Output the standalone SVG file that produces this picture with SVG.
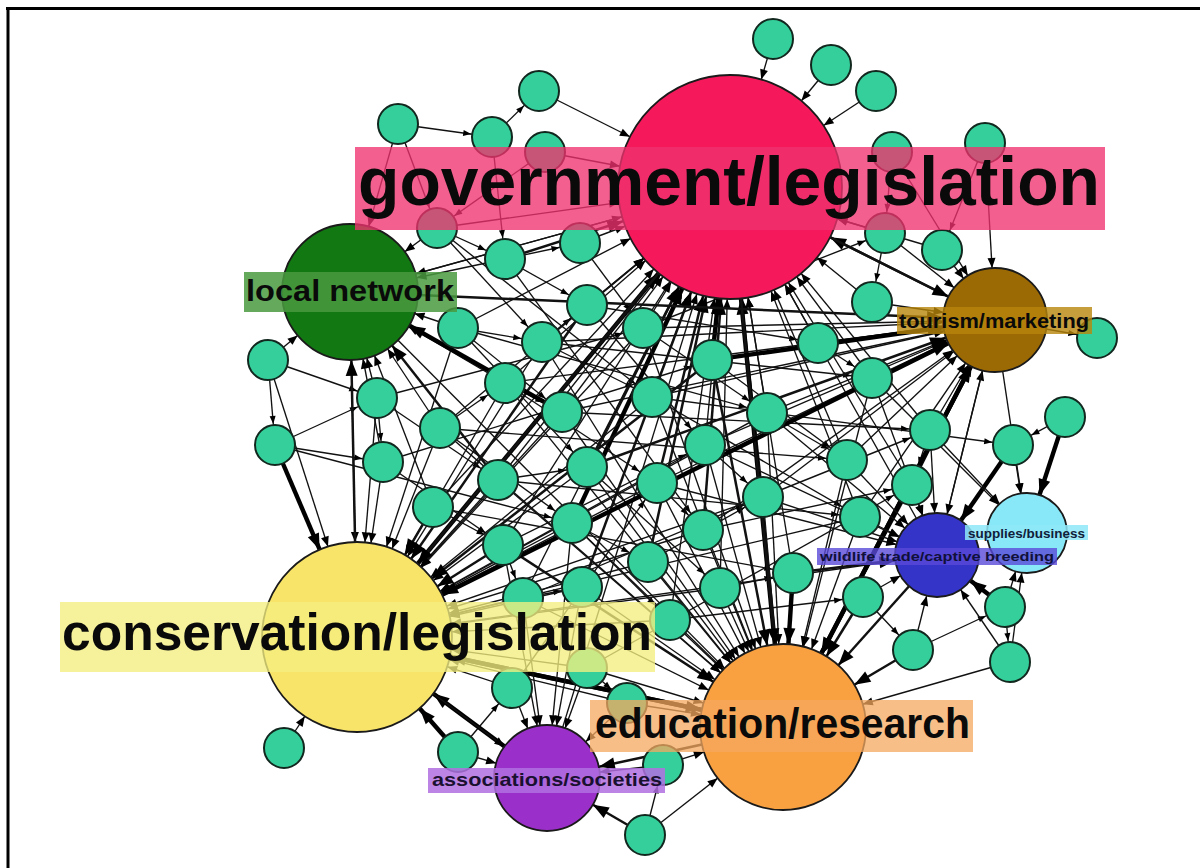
<svg xmlns="http://www.w3.org/2000/svg" width="1200" height="868" viewBox="0 0 1200 868">
<style>
.e{stroke:#111;stroke-width:1.35;fill:none}
.m{stroke:#111;stroke-width:2.5;fill:none}
.k{stroke:#000;stroke-width:4.4;fill:none}
.sn circle{fill:#35cf9b;stroke:#12281f;stroke-width:2}
.hub{stroke:#1a1a1a;stroke-width:1.8}
.lab{font-family:"Liberation Sans",Arial,sans-serif;font-weight:bold;fill:#0a0a0a}
.tG .e{marker-end:url(#sG)} .tG .m,.tG .k{marker-end:url(#bG)}
.tC .e{marker-end:url(#sC)} .tC .m,.tC .k{marker-end:url(#bC)}
.tE .e{marker-end:url(#sE)} .tE .m,.tE .k{marker-end:url(#bE)}
.tT .e{marker-end:url(#sT)} .tT .m,.tT .k{marker-end:url(#bT)}
.tW .e{marker-end:url(#sW)} .tW .m,.tW .k{marker-end:url(#bW)}
.tS .e{marker-end:url(#sS)} .tS .m,.tS .k{marker-end:url(#bS)}
.tA .e{marker-end:url(#sA)} .tA .m,.tA .k{marker-end:url(#bA)}
.tL .e{marker-end:url(#sL)} .tL .m,.tL .k{marker-end:url(#bL)}
.tn .e{marker-end:url(#sn)}
</style>
<defs>
<marker id="sG" markerUnits="userSpaceOnUse" markerWidth="10" markerHeight="8" refX="122" refY="4" orient="auto" overflow="visible"><path d="M0 0L10 4L0 8z"/></marker>
<marker id="bG" markerUnits="userSpaceOnUse" markerWidth="16" markerHeight="12" refX="128" refY="6" orient="auto" overflow="visible"><path d="M0 0L16 6L0 12z"/></marker>
<marker id="sC" markerUnits="userSpaceOnUse" markerWidth="10" markerHeight="8" refX="105" refY="4" orient="auto" overflow="visible"><path d="M0 0L10 4L0 8z"/></marker>
<marker id="bC" markerUnits="userSpaceOnUse" markerWidth="16" markerHeight="12" refX="111" refY="6" orient="auto" overflow="visible"><path d="M0 0L16 6L0 12z"/></marker>
<marker id="sE" markerUnits="userSpaceOnUse" markerWidth="10" markerHeight="8" refX="93" refY="4" orient="auto" overflow="visible"><path d="M0 0L10 4L0 8z"/></marker>
<marker id="bE" markerUnits="userSpaceOnUse" markerWidth="16" markerHeight="12" refX="99" refY="6" orient="auto" overflow="visible"><path d="M0 0L16 6L0 12z"/></marker>
<marker id="sT" markerUnits="userSpaceOnUse" markerWidth="10" markerHeight="8" refX="62" refY="4" orient="auto" overflow="visible"><path d="M0 0L10 4L0 8z"/></marker>
<marker id="bT" markerUnits="userSpaceOnUse" markerWidth="16" markerHeight="12" refX="68" refY="6" orient="auto" overflow="visible"><path d="M0 0L16 6L0 12z"/></marker>
<marker id="sW" markerUnits="userSpaceOnUse" markerWidth="10" markerHeight="8" refX="52" refY="4" orient="auto" overflow="visible"><path d="M0 0L10 4L0 8z"/></marker>
<marker id="bW" markerUnits="userSpaceOnUse" markerWidth="16" markerHeight="12" refX="58" refY="6" orient="auto" overflow="visible"><path d="M0 0L16 6L0 12z"/></marker>
<marker id="sS" markerUnits="userSpaceOnUse" markerWidth="10" markerHeight="8" refX="50" refY="4" orient="auto" overflow="visible"><path d="M0 0L10 4L0 8z"/></marker>
<marker id="bS" markerUnits="userSpaceOnUse" markerWidth="16" markerHeight="12" refX="56" refY="6" orient="auto" overflow="visible"><path d="M0 0L16 6L0 12z"/></marker>
<marker id="sA" markerUnits="userSpaceOnUse" markerWidth="10" markerHeight="8" refX="63" refY="4" orient="auto" overflow="visible"><path d="M0 0L10 4L0 8z"/></marker>
<marker id="bA" markerUnits="userSpaceOnUse" markerWidth="16" markerHeight="12" refX="69" refY="6" orient="auto" overflow="visible"><path d="M0 0L16 6L0 12z"/></marker>
<marker id="sL" markerUnits="userSpaceOnUse" markerWidth="10" markerHeight="8" refX="78" refY="4" orient="auto" overflow="visible"><path d="M0 0L10 4L0 8z"/></marker>
<marker id="bL" markerUnits="userSpaceOnUse" markerWidth="16" markerHeight="12" refX="84" refY="6" orient="auto" overflow="visible"><path d="M0 0L16 6L0 12z"/></marker>
<marker id="sn" markerUnits="userSpaceOnUse" markerWidth="8" markerHeight="6" refX="29" refY="3" orient="auto" overflow="visible"><path d="M0 0L8 3L0 6z"/></marker>
</defs>
<rect width="1200" height="868" fill="#fff"/>
<path d="M6 8.5H1200M8 7V868" stroke="#000" stroke-width="3" fill="none"/>

<g id="connectors">
<g class="tn">
<path class="e" d="M398 124L492 137"/><path class="e" d="M492 137L539 91"/><path class="e" d="M398 124L437 228"/><path class="e" d="M545 152L437 228"/>
<path class="e" d="M492 137L505 259"/><path class="e" d="M437 228L505 259"/><path class="e" d="M505 259L580 243"/><path class="e" d="M892 152L885 233"/>
<path class="e" d="M985 143L942 250"/><path class="e" d="M885 233L872 302"/><path class="e" d="M268 360L275 445"/><path class="e" d="M275 445L377 398"/>
<path class="e" d="M275 445L383 462"/><path class="e" d="M377 398L383 462"/><path class="e" d="M268 360L377 398"/><path class="e" d="M440 428L505 383"/>
<path class="e" d="M458 328L542 342"/><path class="e" d="M542 342L587 305"/><path class="e" d="M505 383L562 412"/><path class="e" d="M498 480L587 467"/>
<path class="e" d="M433 507L503 545"/><path class="e" d="M503 545L523 598"/><path class="e" d="M523 598L582 587"/><path class="e" d="M572 523L648 562"/>
<path class="e" d="M657 483L703 530"/><path class="e" d="M705 445L763 497"/><path class="e" d="M767 413L847 460"/><path class="e" d="M818 343L872 378"/>
<path class="e" d="M930 430L912 485"/><path class="e" d="M1065 417L1013 445"/><path class="e" d="M1005 607L1010 662"/><path class="e" d="M913 650L1005 607"/>
<path class="e" d="M645 835L663 765"/><path class="e" d="M458 752L512 688"/><path class="e" d="M587 668L627 703"/><path class="e" d="M720 588L793 573"/>
<path class="e" d="M863 597L913 650"/><path class="e" d="M995 320L1097 338"/>
<path class="e" d="M437 228L652 397"/><path class="e" d="M505 259L703 530"/><path class="e" d="M458 328L767 413"/><path class="e" d="M440 428L847 460"/>
<path class="e" d="M498 480L860 517"/><path class="e" d="M433 507L793 573"/><path class="e" d="M503 545L705 445"/><path class="e" d="M523 598L763 497"/>
<path class="e" d="M512 688L657 483"/><path class="e" d="M587 668L912 485"/><path class="e" d="M377 398L643 328"/><path class="e" d="M383 462L712 360"/>
<path class="e" d="M275 445L572 523"/><path class="e" d="M542 342L872 378"/><path class="e" d="M562 412L930 430"/><path class="e" d="M652 397L1013 445"/>
<path class="e" d="M587 305L818 343"/><path class="e" d="M643 328L885 233"/>
<path class="e" d="M458 328L587 467"/><path class="e" d="M505 383L657 483"/><path class="e" d="M440 428L572 523"/><path class="e" d="M377 398L498 480"/>
<path class="e" d="M383 462L503 545"/><path class="e" d="M542 342L652 397"/><path class="e" d="M587 305L705 445"/><path class="e" d="M643 328L767 413"/>
<path class="e" d="M712 360L847 460"/><path class="e" d="M652 397L860 517"/><path class="e" d="M587 467L720 588"/><path class="e" d="M572 523L670 620"/>
<path class="e" d="M648 562L763 497"/><path class="e" d="M670 620L863 597"/><path class="e" d="M703 530L912 485"/><path class="e" d="M763 497L930 430"/>
<path class="e" d="M437 228L542 342"/><path class="e" d="M505 259L587 305"/><path class="e" d="M580 243L643 328"/><path class="e" d="M458 328L562 412"/>
</g>
<g class="tG">
<path class="e" d="M773 39L730 187"/><path class="e" d="M831 65L730 187"/><path class="e" d="M876 91L730 187"/><path class="e" d="M539 91L730 187"/>
<path class="e" d="M545 152L730 187"/><path class="e" d="M437 228L730 187"/><path class="e" d="M580 243L730 187"/><path class="e" d="M885 233L730 187"/>
<path class="e" d="M942 250L730 187"/><path class="e" d="M872 302L730 187"/><path class="e" d="M458 328L730 187"/><path class="e" d="M542 342L730 187"/>
<path class="e" d="M587 305L730 187"/><path class="e" d="M643 328L730 187"/><path class="e" d="M818 343L730 187"/><path class="e" d="M872 378L730 187"/>
<path class="e" d="M505 383L730 187"/><path class="e" d="M562 412L730 187"/><path class="e" d="M652 397L730 187"/><path class="e" d="M767 413L730 187"/>
<path class="e" d="M440 428L730 187"/><path class="e" d="M705 445L730 187"/><path class="e" d="M847 460L730 187"/><path class="e" d="M498 480L730 187"/>
<path class="e" d="M587 467L730 187"/><path class="e" d="M763 497L730 187"/><path class="e" d="M433 507L730 187"/><path class="e" d="M572 523L730 187"/>
<path class="e" d="M503 545L730 187"/><path class="e" d="M720 588L730 187"/><path class="e" d="M670 620L730 187"/><path class="e" d="M860 517L730 187"/>
<path class="e" d="M912 485L730 187"/><path class="e" d="M930 430L730 187"/><path class="e" d="M350 292L730 187"/><path class="e" d="M547 778L730 187"/>
<path class="e" d="M937 555L730 187"/><path class="e" d="M523 598L730 187"/><path class="e" d="M793 573L730 187"/>
<path class="m" d="M505 259L730 187"/><path class="m" d="M657 483L730 187"/><path class="m" d="M703 530L730 187"/><path class="m" d="M648 562L730 187"/>
<path class="m" d="M582 587L730 187"/><path class="m" d="M995 320L730 187"/><path class="m" d="M587 467L730 187"/>
<path class="k" d="M357 637L730 187"/><path class="k" d="M783 727L730 187"/><path class="k" d="M712 360L730 187"/><path class="k" d="M572 523L730 187"/>
</g>
<g class="tC">
<path class="e" d="M268 360L357 637"/><path class="e" d="M377 398L357 637"/><path class="e" d="M440 428L357 637"/><path class="e" d="M383 462L357 637"/>
<path class="e" d="M498 480L357 637"/><path class="e" d="M505 383L357 637"/><path class="e" d="M562 412L357 637"/><path class="e" d="M587 467L357 637"/>
<path class="e" d="M572 523L357 637"/><path class="e" d="M523 598L357 637"/><path class="e" d="M582 587L357 637"/><path class="e" d="M512 688L357 637"/>
<path class="e" d="M587 668L357 637"/><path class="e" d="M284 748L357 637"/><path class="e" d="M648 562L357 637"/><path class="e" d="M670 620L357 637"/>
<path class="e" d="M627 703L357 637"/><path class="e" d="M542 342L357 637"/><path class="e" d="M458 328L357 637"/><path class="e" d="M643 328L357 637"/>
<path class="e" d="M657 483L357 637"/><path class="e" d="M703 530L357 637"/><path class="e" d="M767 413L357 637"/><path class="e" d="M705 445L357 637"/>
<path class="e" d="M763 497L357 637"/><path class="e" d="M350 292L357 637"/><path class="e" d="M937 555L357 637"/><path class="e" d="M720 588L357 637"/>
<path class="e" d="M652 397L357 637"/><path class="e" d="M860 517L357 637"/>
<path class="m" d="M433 507L357 637"/><path class="m" d="M503 545L357 637"/><path class="m" d="M730 187L357 637"/><path class="m" d="M712 360L357 637"/>
<path class="m" d="M995 320L357 637"/><path class="m" d="M587 305L357 637"/>
<path class="k" d="M275 445L357 637"/><path class="k" d="M458 752L357 637"/><path class="k" d="M547 778L357 637"/><path class="k" d="M783 727L357 637"/>
</g>
<g class="tE">
<path class="e" d="M767 413L783 727"/><path class="e" d="M705 445L783 727"/><path class="e" d="M657 483L783 727"/><path class="e" d="M763 497L783 727"/>
<path class="e" d="M572 523L783 727"/><path class="e" d="M703 530L783 727"/><path class="e" d="M860 517L783 727"/><path class="e" d="M648 562L783 727"/>
<path class="e" d="M582 587L783 727"/><path class="e" d="M720 588L783 727"/><path class="e" d="M670 620L783 727"/><path class="e" d="M627 703L783 727"/>
<path class="e" d="M663 765L783 727"/><path class="e" d="M645 835L783 727"/><path class="e" d="M587 467L783 727"/><path class="e" d="M562 412L783 727"/>
<path class="e" d="M652 397L783 727"/><path class="e" d="M847 460L783 727"/><path class="e" d="M912 485L783 727"/><path class="e" d="M643 328L783 727"/>
<path class="e" d="M872 378L783 727"/><path class="e" d="M523 598L783 727"/><path class="e" d="M587 668L783 727"/><path class="e" d="M1010 662L783 727"/>
<path class="e" d="M350 292L783 727"/><path class="e" d="M542 342L783 727"/><path class="e" d="M505 383L783 727"/><path class="e" d="M440 428L783 727"/>
<path class="e" d="M498 480L783 727"/>
<path class="m" d="M913 650L783 727"/><path class="m" d="M730 187L783 727"/><path class="m" d="M937 555L783 727"/><path class="m" d="M712 360L783 727"/>
<path class="m" d="M863 597L783 727"/><path class="m" d="M503 545L783 727"/>
<path class="k" d="M793 573L783 727"/><path class="k" d="M995 320L783 727"/><path class="k" d="M357 637L783 727"/>
</g>
<g class="tT">
<path class="e" d="M892 152L995 320"/><path class="e" d="M985 143L995 320"/><path class="e" d="M885 233L995 320"/><path class="e" d="M942 250L995 320"/>
<path class="e" d="M872 302L995 320"/><path class="e" d="M818 343L995 320"/><path class="e" d="M872 378L995 320"/><path class="e" d="M767 413L995 320"/>
<path class="e" d="M643 328L995 320"/><path class="e" d="M652 397L995 320"/><path class="e" d="M705 445L995 320"/><path class="e" d="M930 430L995 320"/>
<path class="e" d="M847 460L995 320"/><path class="e" d="M763 497L995 320"/><path class="e" d="M657 483L995 320"/><path class="e" d="M542 342L995 320"/>
<path class="e" d="M562 412L995 320"/><path class="e" d="M912 485L995 320"/><path class="e" d="M505 383L995 320"/><path class="e" d="M937 555L995 320"/>
<path class="e" d="M703 530L995 320"/><path class="e" d="M860 517L995 320"/>
<path class="m" d="M730 187L995 320"/><path class="m" d="M350 292L995 320"/><path class="m" d="M587 467L995 320"/>
<path class="k" d="M357 637L995 320"/><path class="k" d="M712 360L995 320"/><path class="k" d="M783 727L995 320"/>
</g>
<g class="tW">
<path class="e" d="M930 430L937 555"/><path class="e" d="M847 460L937 555"/><path class="e" d="M912 485L937 555"/><path class="e" d="M860 517L937 555"/>
<path class="e" d="M763 497L937 555"/><path class="e" d="M863 597L937 555"/><path class="e" d="M1010 662L937 555"/><path class="e" d="M913 650L937 555"/>
<path class="e" d="M767 413L937 555"/><path class="e" d="M705 445L937 555"/><path class="e" d="M872 378L937 555"/><path class="e" d="M995 320L937 555"/>
<path class="e" d="M657 483L937 555"/>
<path class="m" d="M793 573L937 555"/>
<path class="k" d="M1013 445L937 555"/><path class="k" d="M1005 607L937 555"/>
</g>
<g class="tS">
<path class="e" d="M995 320L1027 533"/><path class="e" d="M1013 445L1027 533"/><path class="e" d="M930 430L1027 533"/><path class="e" d="M1010 662L1027 533"/>
<path class="e" d="M1005 607L1027 533"/><path class="e" d="M872 378L1027 533"/>
<path class="k" d="M1065 417L1027 533"/>
</g>
<g class="tA">
<path class="e" d="M587 668L547 778"/><path class="e" d="M512 688L547 778"/><path class="e" d="M627 703L547 778"/><path class="e" d="M663 765L547 778"/>
<path class="e" d="M523 598L547 778"/><path class="e" d="M458 752L547 778"/><path class="e" d="M503 545L547 778"/><path class="e" d="M357 637L547 778"/>
<path class="e" d="M572 523L547 778"/><path class="e" d="M582 587L547 778"/>
<path class="m" d="M645 835L547 778"/><path class="m" d="M783 727L547 778"/>
</g>
<g class="tL">
<path class="e" d="M437 228L350 292"/><path class="e" d="M268 360L350 292"/><path class="e" d="M458 328L350 292"/><path class="e" d="M377 398L350 292"/>
<path class="e" d="M398 124L350 292"/><path class="e" d="M440 428L350 292"/><path class="e" d="M383 462L350 292"/><path class="e" d="M505 383L350 292"/>
<path class="e" d="M433 507L350 292"/><path class="e" d="M505 259L350 292"/><path class="e" d="M730 187L350 292"/>
<path class="m" d="M498 480L350 292"/><path class="m" d="M357 637L350 292"/>
<path class="k" d="M562 412L350 292"/>
</g>
</g>

<g id="small-nodes" class="sn">
<g id="p01"><circle cx="773" cy="39" r="20"/></g><g id="p02"><circle cx="831" cy="65" r="20"/></g><g id="p03"><circle cx="876" cy="91" r="20"/></g>
<g id="p04"><circle cx="539" cy="91" r="20"/></g><g id="p05"><circle cx="398" cy="124" r="20"/></g><g id="p06"><circle cx="492" cy="137" r="20"/></g>
<g id="p07"><circle cx="545" cy="152" r="20"/></g><g id="p08"><circle cx="892" cy="152" r="20"/></g><g id="p09"><circle cx="985" cy="143" r="20"/></g>
<g id="p10"><circle cx="437" cy="228" r="20"/></g><g id="p11"><circle cx="505" cy="259" r="20"/></g><g id="p12"><circle cx="580" cy="243" r="20"/></g>
<g id="p13"><circle cx="885" cy="233" r="20"/></g><g id="p14"><circle cx="942" cy="250" r="20"/></g><g id="p15"><circle cx="872" cy="302" r="20"/></g>
<g id="p16"><circle cx="1097" cy="338" r="20"/></g><g id="p17"><circle cx="268" cy="360" r="20"/></g><g id="p18"><circle cx="458" cy="328" r="20"/></g>
<g id="p19"><circle cx="542" cy="342" r="20"/></g><g id="p20"><circle cx="587" cy="305" r="20"/></g><g id="p21"><circle cx="643" cy="328" r="20"/></g>
<g id="p22"><circle cx="712" cy="360" r="20"/></g><g id="p23"><circle cx="818" cy="343" r="20"/></g><g id="p24"><circle cx="872" cy="378" r="20"/></g>
<g id="p25"><circle cx="377" cy="398" r="20"/></g><g id="p26"><circle cx="505" cy="383" r="20"/></g><g id="p27"><circle cx="562" cy="412" r="20"/></g>
<g id="p28"><circle cx="652" cy="397" r="20"/></g><g id="p29"><circle cx="767" cy="413" r="20"/></g><g id="p30"><circle cx="930" cy="430" r="20"/></g>
<g id="p31"><circle cx="1013" cy="445" r="20"/></g><g id="p32"><circle cx="1065" cy="417" r="20"/></g><g id="p33"><circle cx="275" cy="445" r="20"/></g>
<g id="p34"><circle cx="440" cy="428" r="20"/></g><g id="p35"><circle cx="705" cy="445" r="20"/></g><g id="p36"><circle cx="847" cy="460" r="20"/></g>
<g id="p37"><circle cx="383" cy="462" r="20"/></g><g id="p38"><circle cx="498" cy="480" r="20"/></g><g id="p39"><circle cx="587" cy="467" r="20"/></g>
<g id="p40"><circle cx="657" cy="483" r="20"/></g><g id="p41"><circle cx="763" cy="497" r="20"/></g><g id="p42"><circle cx="912" cy="485" r="20"/></g>
<g id="p43"><circle cx="433" cy="507" r="20"/></g><g id="p44"><circle cx="572" cy="523" r="20"/></g><g id="p45"><circle cx="703" cy="530" r="20"/></g>
<g id="p46"><circle cx="860" cy="517" r="20"/></g><g id="p47"><circle cx="503" cy="545" r="20"/></g><g id="p48"><circle cx="648" cy="562" r="20"/></g>
<g id="p49"><circle cx="793" cy="573" r="20"/></g><g id="p50"><circle cx="523" cy="598" r="20"/></g><g id="p51"><circle cx="582" cy="587" r="20"/></g>
<g id="p52"><circle cx="720" cy="588" r="20"/></g><g id="p53"><circle cx="863" cy="597" r="20"/></g><g id="p54"><circle cx="1005" cy="607" r="20"/></g>
<g id="p55"><circle cx="670" cy="620" r="20"/></g><g id="p56"><circle cx="913" cy="650" r="20"/></g><g id="p57"><circle cx="1010" cy="662" r="20"/></g>
<g id="p58"><circle cx="587" cy="668" r="20"/></g><g id="p59"><circle cx="512" cy="688" r="20"/></g><g id="p60"><circle cx="627" cy="703" r="20"/></g>
<g id="p61"><circle cx="458" cy="752" r="20"/></g><g id="p62"><circle cx="663" cy="765" r="20"/></g><g id="p63"><circle cx="645" cy="835" r="20"/></g>
<g id="p64"><circle cx="284" cy="748" r="20"/></g>
</g>

<g id="hubs" class="hub">
<g id="local-network"><circle cx="350" cy="292" r="68" fill="#127812"/></g>
<g id="government-legislation"><circle cx="730" cy="187" r="112" fill="#f5195b"/></g>
<g id="tourism-marketing"><circle cx="995" cy="320" r="52" fill="#9c6a05"/></g>
<g id="supplies-business"><circle cx="1027" cy="533" r="40" fill="#88e8f8"/></g>
<g id="wildlife-trade"><circle cx="937" cy="555" r="42" fill="#3434c8"/></g>
<g id="conservation-legislation"><circle cx="357" cy="637" r="95" fill="#f9e46a"/></g>
<g id="associations-societies"><circle cx="547" cy="778" r="53" fill="#9b2fc9"/></g>
<g id="education-research"><circle cx="783" cy="727" r="83" fill="#f9a040"/></g>
</g>

<g id="labels" class="lab">
<g id="label-government"><rect x="355" y="147" width="750" height="83" fill="#f0326e" opacity="0.78"/><text x="358" y="205" font-size="68" textLength="742" lengthAdjust="spacingAndGlyphs">government/legislation</text></g>
<g id="label-local"><rect x="244" y="272" width="213" height="40" fill="#4a9a40" opacity="0.85"/><text x="246" y="301" font-size="30" textLength="208" lengthAdjust="spacingAndGlyphs">local network</text></g>
<g id="label-tourism"><rect x="897" y="307" width="195" height="27" fill="#b8860b" opacity="0.8"/><text x="899" y="328" font-size="20" textLength="190" lengthAdjust="spacingAndGlyphs">tourism/marketing</text></g>
<g id="label-wildlife"><rect x="817" y="548" width="240" height="17" fill="#5a4ad8" opacity="0.8"/><text x="820" y="561" font-size="13" fill="#10103a" textLength="234" lengthAdjust="spacingAndGlyphs">wildlife trade/captive breeding</text></g>
<g id="label-supplies"><rect x="965" y="525" width="123" height="15" fill="#8ee8f8" opacity="0.85"/><text x="968" y="538" font-size="13" fill="#10203a" textLength="117" lengthAdjust="spacingAndGlyphs">supplies/business</text></g>
<g id="label-conservation"><rect x="60" y="602" width="595" height="70" fill="#f4ee80" opacity="0.78"/><text x="62" y="650" font-size="52" textLength="590" lengthAdjust="spacingAndGlyphs">conservation/legislation</text></g>
<g id="label-education"><rect x="590" y="700" width="383" height="52" fill="#f6a860" opacity="0.75"/><text x="595" y="738" font-size="42" textLength="375" lengthAdjust="spacingAndGlyphs">education/research</text></g>
<g id="label-associations"><rect x="428" y="768" width="237" height="25" fill="#b070e0" opacity="0.85"/><text x="432" y="786" font-size="19" fill="#1a1030" textLength="230" lengthAdjust="spacingAndGlyphs">associations/societies</text></g>
</g>
</svg>
